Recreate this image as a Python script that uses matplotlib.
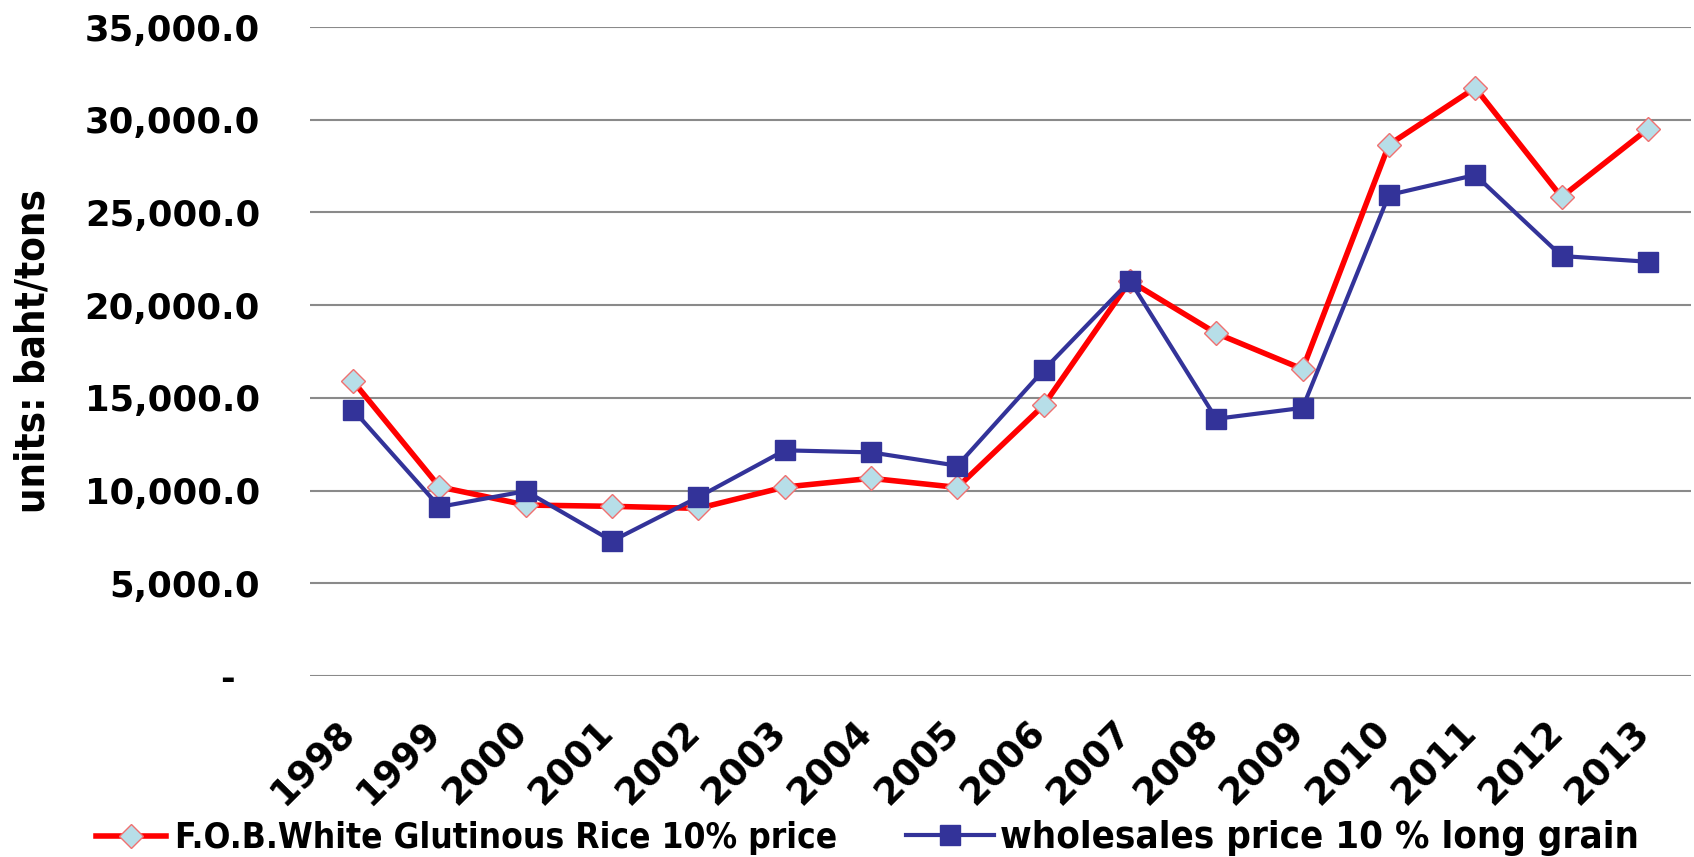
import matplotlib
matplotlib.use("Agg")
import matplotlib.pyplot as plt
import matplotlib.transforms as mtransforms
from matplotlib import font_manager
from matplotlib.font_manager import FontProperties
from matplotlib.ticker import FuncFormatter, MultipleLocator

years = ["1998", "1999", "2000", "2001", "2002", "2003", "2004", "2005",
         "2006", "2007", "2008", "2009", "2010", "2011", "2012", "2013"]
fob_price = [15890, 10200, 9220, 9150, 9040, 10190, 10660, 10170,
             14600, 21300, 18480, 16550, 28650, 31720, 25830, 29500]
wholesale_price = [14350, 9120, 9970, 7280, 9650, 12170, 12060, 11340,
                   16500, 21320, 13870, 14460, 25940, 27020, 22650, 22340]
label_fob = "F.O.B.White Glutinous Rice 10% price"
label_whole = "wholesales price 10 % long grain"
y_label = "units: baht/tons"


def condensed_bold():
    """Find an installed condensed/narrow bold font file, if any."""
    prefs = ["Liberation Sans Narrow", "DejaVu Sans", "Roboto Condensed", "Roboto",
             "Open Sans Condensed", "Open Sans", "Noto Sans", "Lato", "Inter"]
    cands = []
    for f in font_manager.fontManager.ttflist:
        st = str(f.stretch).lower()
        fn = f.fname.lower()
        is_cond = ("condensed" in st or "narrow" in st or "condensed" in fn
                   or "narrow" in fn) and "semi" not in st and "semi" not in fn
        w = f.weight if isinstance(f.weight, int) else {"bold": 700}.get(str(f.weight), 400)
        if is_cond and w >= 600 and "italic" not in fn and "oblique" not in fn \
                and f.style == "normal":
            rank = prefs.index(f.name) if f.name in prefs else len(prefs)
            cands.append((rank, abs(w - 700), f.fname))
    if cands:
        cands.sort()
        return cands[0][2]
    return None


cond_path = condensed_bold()
if cond_path:
    cond_font = dict(fname=cond_path)
    cond_scale = 1.0
else:
    cond_font = dict(family="DejaVu Sans", weight="bold")
    cond_scale = 0.88

W, H = 1694, 857
fig = plt.figure(figsize=(W / 100, H / 100), dpi=100)
ax = fig.add_axes([310 / W, 1 - 676 / H, (1691 - 310) / W, (676 - 27) / H])

x = list(range(len(years)))
l1, = ax.plot(x, fob_price, color="#ff0000", lw=4.0, marker="D", markersize=12.5,
              markerfacecolor="#b7dee8", markeredgecolor="#f07070", markeredgewidth=1.0,
              zorder=3)
l2, = ax.plot(x, wholesale_price, color="#333399", lw=3.0, marker="s", markersize=15,
              markerfacecolor="#333399", markeredgecolor="#333399", zorder=4)

ax.set_xlim(-0.5, len(years) - 0.5)
ax.set_ylim(0, 35000)
ax.yaxis.set_major_locator(MultipleLocator(5000))
ax.yaxis.set_major_formatter(FuncFormatter(lambda v, p: "-  " if v == 0 else f"{v:,.1f}"))
ax.grid(axis="y", color="#8a8a8a", lw=1.5)
ax.set_axisbelow(True)
for s in ax.spines.values():
    s.set_visible(False)
ax.tick_params(axis="both", length=0)
ax.tick_params(axis="y", pad=36, labelsize=25.5)
ax.set_xticks(x)
ax.set_xticklabels(years, rotation=45, ha="right", va="top", fontsize=26.5,
                   fontweight="bold")
offset = mtransforms.ScaledTranslation(9 / 100, -33 / 100, fig.dpi_scale_trans)
for lab in ax.get_xticklabels():
    lab.set_transform(lab.get_transform() + offset)
for lab in ax.get_yticklabels():
    lab.set_fontweight("bold")

fp_ylab = FontProperties(size=31 * cond_scale * 0.93, **cond_font)
fig.text(33 / W, 1 - 351 / H, y_label, rotation=90, ha="center", va="center",
         fontproperties=fp_ylab)

fp_leg1 = FontProperties(size=25.3 * cond_scale, **cond_font)
fp_leg2 = FontProperties(size=27.5 * cond_scale, **cond_font)
fig.legend([l1], [label_fob], loc="center left", bbox_to_anchor=(96 / W, 1 - 838 / H),
           frameon=False, handlelength=2.0, handletextpad=0.25, borderaxespad=0,
           borderpad=0, prop=fp_leg1)
fig.legend([l2], [label_whole], loc="center left", bbox_to_anchor=(906 / W, 1 - 838 / H),
           frameon=False, handlelength=2.3, handletextpad=0.15, borderaxespad=0,
           borderpad=0, prop=fp_leg2)

fig.savefig("out.png", dpi=100)
